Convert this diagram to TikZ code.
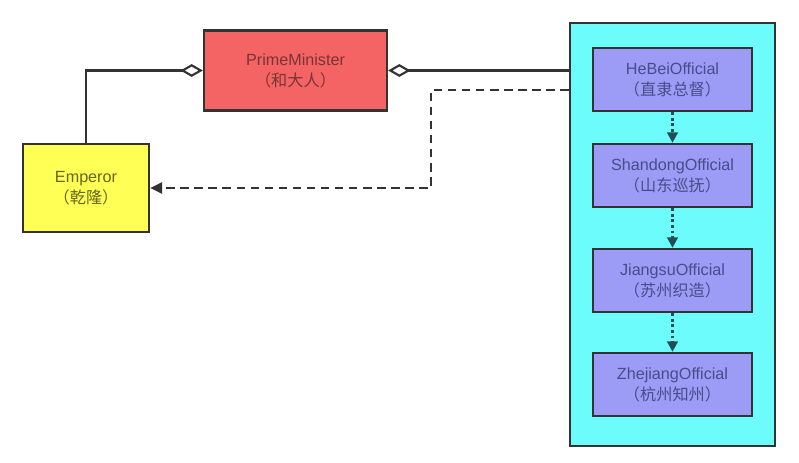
\documentclass[tikz,border=0pt]{standalone}
\usepackage{fontspec}
\setmainfont{Liberation Sans}
\newfontfamily\cjk{Noto Sans CJK SC}
\usetikzlibrary{arrows.meta,positioning,calc}
\definecolor{linegray}{HTML}{333333}
\definecolor{pmred}{HTML}{F46464}
\definecolor{empyellow}{HTML}{FFFF55}
\definecolor{grpcyan}{HTML}{6CFCFC}
\definecolor{offpurple}{HTML}{9C9CF6}
\definecolor{offtext}{HTML}{4A4A8C}
\definecolor{pmtext}{HTML}{7A3434}
\definecolor{emptext}{HTML}{66661E}
\definecolor{dotteal}{HTML}{1F4F55}

\begin{document}
\begin{tikzpicture}[x=0.025cm,y=-0.025cm,
  box/.style={draw=linegray,line width=1.6pt,align=center,inner sep=2pt,
    font=\fontsize{11.5}{15}\selectfont},
  off/.style={box,fill=offpurple,text=offtext,minimum width=3.975cm,minimum height=1.575cm},
  agg/.style={{Diamond[open,fill=white,length=5.6mm,width=3.2mm]}-,line width=1.5pt,linegray},
  dep/.style={-{Triangle[length=3mm,width=2.8mm]},line width=1.5pt,linegray,dash pattern=on 6pt off 4pt},
  nxt/.style={-{Triangle[length=2.6mm,width=2.6mm]},line width=1.9pt,dotteal,dash pattern=on 2pt off 2pt}]
\useasboundingbox (0,0) rectangle (799,462);
\fill[white] (0,0) rectangle (799,462);

% provinces
\node[box,fill=grpcyan,minimum width=5.125cm,minimum height=10.575cm] (grp) at (672.5,234.5) {};
\node[off] (hebei) at (672.5,79.5) {HeBeiOfficial\\{\cjk （直隶总督）}};
\node[off] (shandong) at (672.5,175.5) {ShandongOfficial\\{\cjk （山东巡抚）}};
\node[off] (jiangsu) at (672.5,280.5) {JiangsuOfficial\\{\cjk （苏州织造）}};
\node[off] (zhejiang) at (672.5,384.5) {ZhejiangOfficial\\{\cjk （杭州知州）}};
\draw[nxt] (hebei)--(shandong);
\draw[nxt] (shandong)--(jiangsu);
\draw[nxt] (jiangsu)--(zhejiang);

% court
\node[box,fill=pmred,text=pmtext,minimum width=4.575cm,minimum height=2cm] (pm) at (295.5,70.5) {PrimeMinister\\{\cjk （和大人）}};
\node[box,fill=empyellow,text=emptext,minimum width=3.15cm,minimum height=2.2cm] (emp) at (86,188) {Emperor\\{\cjk （乾隆）}};

\draw[agg] (pm.west) -| (emp.north);
\draw[agg] (pm.east) -- (pm.east -| grp.west);
\coordinate (req) at ($(grp.west)!0.25!(grp.north west)$);
\draw[dep] (req |- 0,90) -| (431,188) -- (emp.east);
\end{tikzpicture}
\end{document}
